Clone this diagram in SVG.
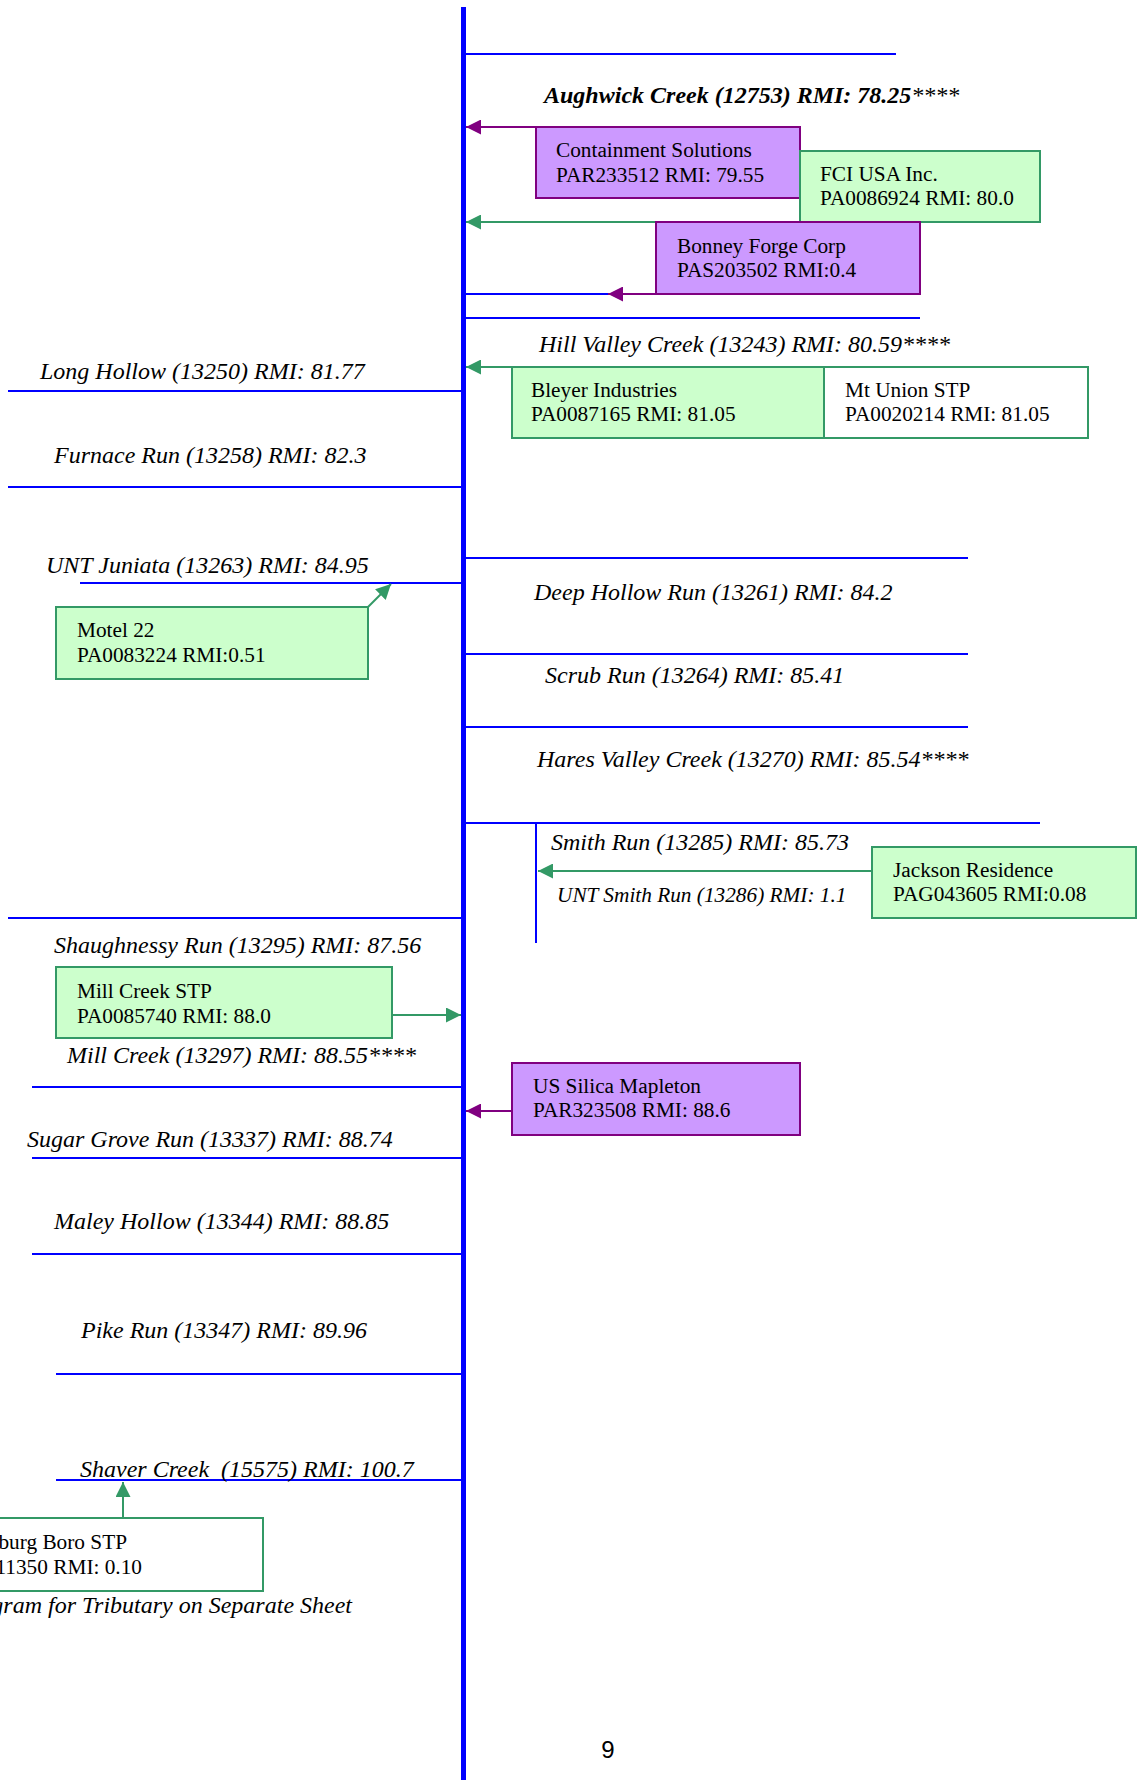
<svg xmlns="http://www.w3.org/2000/svg" width="1138" height="1780" viewBox="0 0 1138 1780">
<style>
.lbl{font-family:"Liberation Serif","Times New Roman",serif;font-style:italic;font-size:24px;fill:#000}
.sm{font-size:21.3px}
.bt{font-family:"Liberation Serif","Times New Roman",serif;font-size:21.3px;fill:#000}
.riv{stroke:#0000FF;stroke-width:2;fill:none}
.main{stroke:#0000FF;stroke-width:5;fill:none}
.pb{fill:#CC99FF;stroke:#800080;stroke-width:2}
.gb{fill:#CCFFCC;stroke:#339966;stroke-width:2}
.wb{fill:#FFFFFF;stroke:#339966;stroke-width:2}
.ca{stroke:#339966;stroke-width:2;fill:none;marker-end:url(#ag)}
.cm{stroke:#800080;stroke-width:2;fill:none;marker-end:url(#am)}
</style>
<defs>
<marker id="ag" viewBox="0 0 10 10" refX="10" refY="5" markerUnits="userSpaceOnUse" markerWidth="15" markerHeight="15" orient="auto"><path d="M0,0 L10,5 L0,10 z" fill="#339966"/></marker>
<marker id="am" viewBox="0 0 10 10" refX="10" refY="5" markerUnits="userSpaceOnUse" markerWidth="15" markerHeight="15" orient="auto"><path d="M0,0 L10,5 L0,10 z" fill="#800080"/></marker>
</defs>
<rect width="1138" height="1780" fill="#FFFFFF"/>

<g id="rivers">
<line class="main" x1="463.5" y1="7" x2="463.5" y2="1780"/>
<line class="riv" x1="466" y1="54" x2="896" y2="54"/>
<line class="riv" x1="466" y1="294" x2="610" y2="294"/>
<line class="riv" x1="466" y1="318" x2="920" y2="318"/>
<line class="riv" x1="8" y1="391" x2="462" y2="391"/>
<line class="riv" x1="8" y1="487" x2="462" y2="487"/>
<line class="riv" x1="80" y1="583" x2="462" y2="583"/>
<line class="riv" x1="466" y1="558" x2="968" y2="558"/>
<line class="riv" x1="466" y1="654" x2="968" y2="654"/>
<line class="riv" x1="466" y1="727" x2="968" y2="727"/>
<line class="riv" x1="466" y1="823" x2="1040" y2="823"/>
<line class="riv" x1="536" y1="823" x2="536" y2="943"/>
<line class="riv" x1="8" y1="918" x2="462" y2="918"/>
<line class="riv" x1="32" y1="1087" x2="462" y2="1087"/>
<line class="riv" x1="32" y1="1158" x2="462" y2="1158"/>
<line class="riv" x1="32" y1="1254" x2="462" y2="1254"/>
<line class="riv" x1="56" y1="1374" x2="462" y2="1374"/>
<line class="riv" x1="56" y1="1480" x2="462" y2="1480"/>
</g>

<g id="labels">
<text class="lbl" x="544" y="103" font-weight="bold">Aughwick Creek (12753) RMI: 78.25<tspan font-weight="normal">****</tspan></text>
<text class="lbl" x="539" y="352">Hill Valley Creek (13243) RMI: 80.59****</text>
<text class="lbl" x="40" y="379">Long Hollow (13250) RMI: 81.77</text>
<text class="lbl" x="54" y="463">Furnace Run (13258) RMI: 82.3</text>
<text class="lbl" x="46" y="573">UNT Juniata (13263) RMI: 84.95</text>
<text class="lbl" x="534" y="600">Deep Hollow Run (13261) RMI: 84.2</text>
<text class="lbl" x="545" y="683">Scrub Run (13264) RMI: 85.41</text>
<text class="lbl" x="537" y="767">Hares Valley Creek (13270) RMI: 85.54****</text>
<text class="lbl" x="551" y="850">Smith Run (13285) RMI: 85.73</text>
<text class="lbl sm" x="557" y="902">UNT Smith Run (13286) RMI: 1.1</text>
<text class="lbl" x="54" y="953">Shaughnessy Run (13295) RMI: 87.56</text>
<text class="lbl" x="67" y="1063">Mill Creek (13297) RMI: 88.55****</text>
<text class="lbl" x="27" y="1147">Sugar Grove Run (13337) RMI: 88.74</text>
<text class="lbl" x="54" y="1229">Maley Hollow (13344) RMI: 88.85</text>
<text class="lbl" x="81" y="1338">Pike Run (13347) RMI: 89.96</text>
<text class="lbl" x="80" y="1477" xml:space="preserve">Shaver Creek  (15575) RMI: 100.7</text>
<text class="lbl" x="352" y="1613" text-anchor="end">gram for Tributary on Separate Sheet</text>
<text x="608" y="1758" text-anchor="middle" font-family="'Liberation Sans',Arial,sans-serif" font-size="24">9</text>
</g>

<g id="connectors">
<line class="cm" x1="536" y1="127" x2="466" y2="127"/>
<line class="ca" x1="800" y1="222" x2="466" y2="222"/>
<line class="cm" x1="700" y1="294" x2="608" y2="294"/>
<line class="ca" x1="512" y1="367" x2="466" y2="367"/>
<line class="ca" x1="368" y1="607" x2="391" y2="584"/>
<line class="ca" x1="872" y1="871" x2="538" y2="871"/>
<line class="ca" x1="392" y1="1015" x2="461" y2="1015"/>
<line class="cm" x1="512" y1="1111" x2="466" y2="1111"/>
<line class="ca" x1="123" y1="1518" x2="123" y2="1482"/>
</g>

<g id="containment">
<rect class="pb" x="536" y="127" width="264" height="71"/>
<text class="bt" x="556" y="157">Containment Solutions</text>
<text class="bt" x="556" y="182">PAR233512 RMI: 79.55</text>
</g>
<g id="fci">
<rect class="gb" x="800" y="151" width="240" height="71"/>
<text class="bt" x="820" y="181">FCI USA Inc.</text>
<text class="bt" x="820" y="205">PA0086924 RMI: 80.0</text>
</g>
<g id="bonney">
<rect class="pb" x="656" y="222" width="264" height="72"/>
<text class="bt" x="677" y="253">Bonney Forge Corp</text>
<text class="bt" x="677" y="277">PAS203502 RMI:0.4</text>
</g>
<g id="bleyer">
<rect class="gb" x="512" y="367" width="312" height="71"/>
<text class="bt" x="531" y="397">Bleyer Industries</text>
<text class="bt" x="531" y="421">PA0087165 RMI: 81.05</text>
</g>
<g id="mtunion">
<rect class="wb" x="824" y="367" width="264" height="71"/>
<text class="bt" x="845" y="397">Mt Union STP</text>
<text class="bt" x="845" y="421">PA0020214 RMI: 81.05</text>
</g>
<g id="motel22">
<rect class="gb" x="56" y="607" width="312" height="72"/>
<text class="bt" x="77" y="637">Motel 22</text>
<text class="bt" x="77" y="662">PA0083224 RMI:0.51</text>
</g>
<g id="jackson">
<rect class="gb" x="872" y="847" width="264" height="71"/>
<text class="bt" x="893" y="877">Jackson Residence</text>
<text class="bt" x="893" y="901">PAG043605 RMI:0.08</text>
</g>
<g id="millcreekstp">
<rect class="gb" x="56" y="967" width="336" height="71"/>
<text class="bt" x="77" y="998">Mill Creek STP</text>
<text class="bt" x="77" y="1023">PA0085740 RMI: 88.0</text>
</g>
<g id="ussilica">
<rect class="pb" x="512" y="1063" width="288" height="72"/>
<text class="bt" x="533" y="1093">US Silica Mapleton</text>
<text class="bt" x="533" y="1117">PAR323508 RMI: 88.6</text>
</g>
<g id="borostp">
<rect class="wb" x="-4" y="1518" width="267" height="73"/>
<text class="bt" x="127" y="1549" text-anchor="end">burg Boro STP</text>
<text class="bt" x="142" y="1574" text-anchor="end">11350 RMI: 0.10</text>
</g>
</svg>
